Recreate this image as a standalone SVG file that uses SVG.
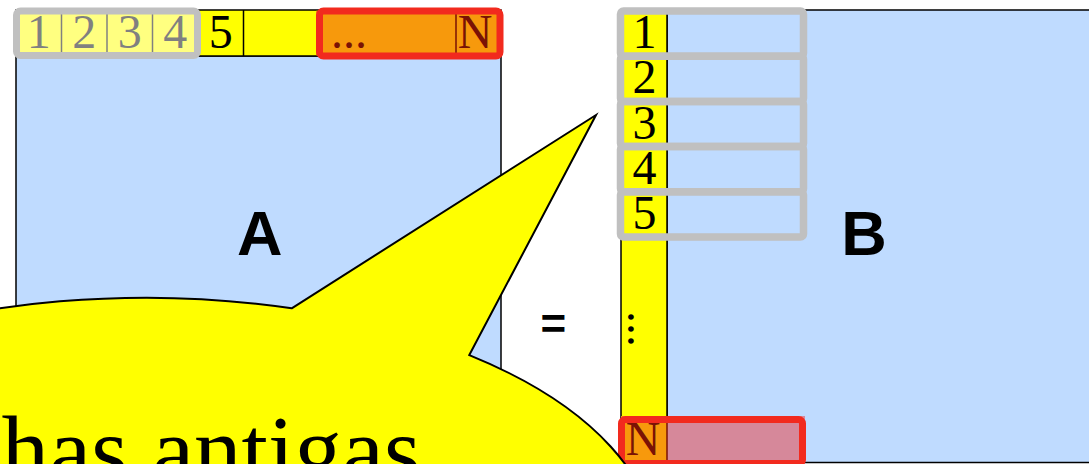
<svg xmlns="http://www.w3.org/2000/svg" width="1089" height="464" viewBox="0 0 1089 464">
<style>
.blue{fill:#bfdbff;stroke:#000;stroke-width:1.5}
.yel{fill:#ffff00;stroke:#000;stroke-width:1.5}
.div{stroke:#000;stroke-width:1.5}
.divr{stroke:#7a1205;stroke-width:1.5}
.num{font-family:"Liberation Serif","Times New Roman",serif;font-size:48px;fill:#000;text-anchor:middle}
.numr{fill:#7a1205}
.grey{fill:none;stroke:#c0c0c0;stroke-width:7.5}
.red{fill:none;stroke:#f22a1e;stroke-width:7}
.lbl{font-family:"Liberation Sans",Arial,sans-serif;font-weight:bold;fill:#000;text-anchor:middle}
</style>
<rect width="1089" height="464" fill="#fff"/>
<g id="matrixA">
  <rect class="blue" x="16" y="56" width="485" height="420"/>
  <rect class="yel" x="16" y="10" width="485" height="46"/>
  <rect x="316" y="10.75" width="185" height="44.5" fill="#f7990c"/>
  <line class="div" x1="61.5" y1="10" x2="61.5" y2="56"/>
  <line class="div" x1="107" y1="10" x2="107" y2="56"/>
  <line class="div" x1="152.5" y1="10" x2="152.5" y2="56"/>
  <line class="div" x1="198" y1="10" x2="198" y2="56"/>
  <line class="div" x1="243.5" y1="10" x2="243.5" y2="56"/>
  <line class="divr" x1="456" y1="10" x2="456" y2="56"/>
  <text class="num" x="38.75" y="48">1</text>
  <text class="num" x="84.25" y="48">2</text>
  <text class="num" x="129.75" y="48">3</text>
  <text class="num" x="175.25" y="48">4</text>
  <text class="num" x="220.75" y="48">5</text>
  <text class="num numr" x="331" y="48" style="text-anchor:start">...</text>
  <text class="num numr" x="475" y="48">N</text>
  <rect x="16.5" y="11" width="181" height="44.5" rx="4" fill="#fff" fill-opacity="0.5" stroke="#c0c0c0" stroke-width="7"/>
  <rect class="red" x="319.5" y="11" width="180.5" height="45" rx="4"/>
</g>
<g id="matrixB">
  <rect class="blue" x="667" y="10" width="440" height="452.5"/>
  <rect class="yel" x="621" y="10" width="46" height="452.5"/>
  <text class="num" x="644.5" y="48">1</text>
  <text class="num" x="644.5" y="93.3">2</text>
  <text class="num" x="644.5" y="138.6">3</text>
  <text class="num" x="644.5" y="183.9">4</text>
  <text class="num" x="644.5" y="229.2">5</text>
  <text class="num" x="0" y="0" style="text-anchor:start" transform="translate(627.5,311) rotate(90)">...</text>
  <rect x="621" y="416" width="46" height="48" fill="#f7990c"/>
  <rect x="667" y="416" width="138" height="48" fill="#d6889a"/>
  <line class="divr" x1="667" y1="416" x2="667" y2="464"/>
  <text class="num numr" x="643" y="455">N</text>
  <rect class="grey" x="620.5" y="11" width="183" height="45.2" rx="3"/>
  <rect class="grey" x="620.5" y="56.2" width="183" height="45.2" rx="3"/>
  <rect class="grey" x="620.5" y="101.4" width="183" height="45.2" rx="3"/>
  <rect class="grey" x="620.5" y="146.6" width="183" height="45.2" rx="3"/>
  <rect class="grey" x="620.5" y="191.8" width="183" height="45.2" rx="3"/>
  <rect class="red" x="621.5" y="419.5" width="181" height="44" rx="4"/>
</g>
<g id="labels">
  <text class="lbl" x="259.7" y="255" font-size="63">A</text>
  <text class="lbl" x="864" y="255" font-size="63">B</text>
  <text class="lbl" x="553.4" y="339" font-size="44">=</text>
</g>
<g id="callout">
  <path d="M 291.7,308.3 L 596,115 L 469.3,355.1 A 510 253 0 1 1 291.7,308.3 Z" fill="#ffff00" stroke="#000" stroke-width="2"/>
  <text x="1.5" y="482" font-family="'Liberation Serif','Times New Roman',serif" font-size="95" fill="#000">has antigas</text>
</g>
</svg>
